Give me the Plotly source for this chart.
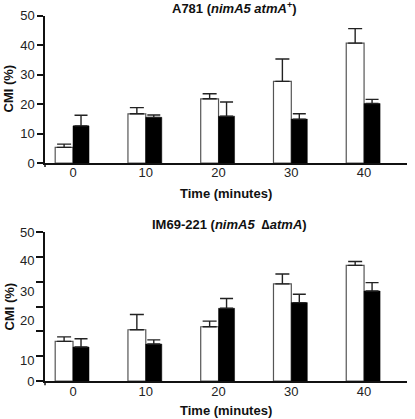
import plotly.graph_objects as go

# ---- data ----
minutes = [0, 10, 20, 30, 40]

top_white = [5.3, 16.7, 21.8, 27.7, 40.7]
top_white_err = [1.1, 2.1, 1.7, 7.6, 4.9]
top_black = [12.6, 15.5, 15.9, 14.9, 20.2]
top_black_err = [3.6, 0.8, 4.8, 1.8, 1.4]

bot_white = [13.3, 17.2, 18.2, 32.6, 38.8]
bot_white_err = [1.5, 5.1, 1.9, 3.3, 1.3]
bot_black = [11.4, 12.4, 24.4, 26.3, 30.2]
bot_black_err = [2.8, 1.4, 3.3, 2.8, 2.8]

y_ticks_top = [0, 10, 20, 30, 40, 50]
# bottom panel: tick marks evenly spaced, labels placed as printed in the original
y_tickmarks_bot = [0, 50/6, 100/6, 25, 200/6, 250/6, 50]
y_labelpos_bot = [0, 6.9, 20.2, 30.2, 40.6, 50]
y_labeltext_bot = ["0", "10", "20", "30", "40", "50"]

FONT = "Arial, Liberation Sans, Helvetica, sans-serif"

fig = go.Figure()

def add_panel(white, werr, black, berr, xa, ya):
    fig.add_trace(go.Bar(
        x=minutes, y=white, xaxis=xa, yaxis=ya,
        offset=-2.45, width=2.45,
        marker=dict(color="white", line=dict(color="#555555", width=1.2)),
        error_y=dict(type="data", array=werr, arrayminus=[0]*len(werr), symmetric=False,
                     color="#222222", thickness=1.4, width=7),
        showlegend=False, hoverinfo="x+y"))
    fig.add_trace(go.Bar(
        x=minutes, y=black, xaxis=xa, yaxis=ya,
        offset=0, width=2.2,
        marker=dict(color="black", line=dict(color="black", width=0.5)),
        error_y=dict(type="data", array=berr, arrayminus=[0]*len(berr), symmetric=False,
                     color="#222222", thickness=1.4, width=6.5),
        showlegend=False, hoverinfo="x+y"))

add_panel(top_white, top_white_err, top_black, top_black_err, "x", "y")
add_panel(bot_white, bot_white_err, bot_black, bot_black_err, "x2", "y2")

xrange = [-3.85, 45.9]
top_dom = [0.611, 0.9625]
bot_dom = [0.0907, 0.4463]

axis_common = dict(showline=True, linecolor="#111111", linewidth=1.5,
                   showgrid=False, zeroline=False, automargin=False,
                   tickfont=dict(family=FONT, size=13, color="#222222"))

fig.update_layout(
    width=415, height=419,
    margin=dict(l=45, r=8, t=0, b=0, pad=0, autoexpand=False),
    plot_bgcolor="white", paper_bgcolor="white",
    barmode="overlay", showlegend=False,
    font=dict(family=FONT, color="#111111"),
    xaxis=dict(domain=[0, 1], anchor="y", range=xrange, tickvals=minutes,
               ticktext=[str(m) for m in minutes], ticks="", ticklabelstandoff=-3,
               **axis_common),
    yaxis=dict(domain=top_dom, anchor="x", range=[0, 50], tickvals=y_ticks_top,
               ticks="outside", ticklen=6, tickwidth=1.5, tickcolor="#111111",
               **axis_common),
    xaxis2=dict(domain=[0, 1], anchor="y2", range=xrange, tickvals=minutes,
                ticktext=[str(m) for m in minutes], ticks="", ticklabelstandoff=-2,
                **axis_common),
    yaxis2=dict(domain=bot_dom, anchor="x2", range=[0, 50], tickvals=y_tickmarks_bot,
                showticklabels=False,
                ticks="outside", ticklen=7, tickwidth=1.5, tickcolor="#111111",
                **axis_common),
    yaxis3=dict(overlaying="y2", anchor="x2", side="left", range=[0, 50],
                tickvals=y_labelpos_bot, ticktext=y_labeltext_bot,
                ticks="outside", ticklen=7, tickcolor="rgba(0,0,0,0)",
                showline=False, showgrid=False, zeroline=False, automargin=False,
                tickfont=dict(family=FONT, size=13, color="#222222")),
)

# invisible trace so the label axis is drawn
fig.add_trace(go.Scatter(x=[minutes[0]], y=[0], xaxis="x2", yaxis="y3",
                         mode="markers", marker=dict(opacity=0), showlegend=False,
                         hoverinfo="skip"))

# small stubs of the y axes below the x axes
for yr in ["y", "y2"]:
    fig.add_shape(type="line", xref="x domain" if yr == "y" else "x2 domain",
                  yref=f"{yr} domain", x0=0, x1=0, y0=0, y1=-0.028,
                  line=dict(color="#111111", width=1.5))

def ann(text, x, y, size=13, angle=0):
    fig.add_annotation(text=text, x=x, y=y, xref="paper", yref="paper",
                       showarrow=False, textangle=angle, xanchor="center", yanchor="middle",
                       font=dict(family=FONT, size=size, color="#111111"))

def py(pix):
    return (419 - pix) / 419

def px(pix):
    return (pix - 45) / 362

ann("<b>A781 (<i>nimA5 atmA</i><sup>+</sup>)</b>", px(234), py(8))
ann("<b>IM69-221 (<i>nimA5  </i>∆<i>atmA</i>)</b>", px(229), py(225))
ann("<b>Time (minutes)</b>", px(226), py(193))
ann("<b>Time (minutes)</b>", px(226), py(410.5))
ann("<b>CMI (%)</b>", px(8.5), py(89), angle=-90)
ann("<b>CMI (%)</b>", px(8.5), py(307), angle=-90)

fig.write_html("out.html", config={"displayModeBar": False},
               post_script="document.body.style.margin='0';document.body.style.overflow='hidden';")
